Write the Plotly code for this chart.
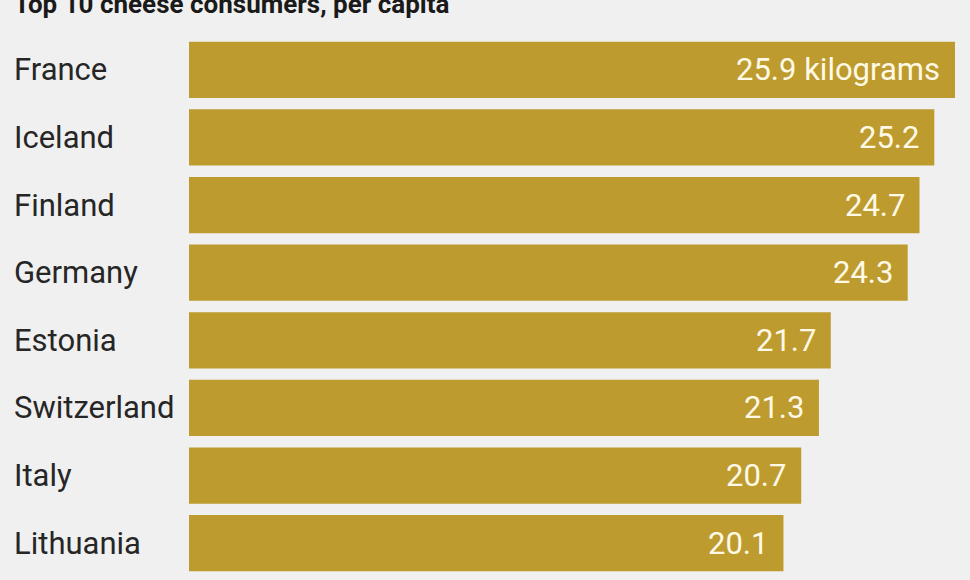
import plotly.graph_objects as go

countries = ["France", "Iceland", "Finland", "Germany", "Estonia", "Switzerland", "Italy", "Lithuania"]
values = [25.9, 25.2, 24.7, 24.3, 21.7, 21.3, 20.7, 20.1]
value_labels = ["25.9 kilograms", "25.2", "24.7", "24.3", "21.7", "21.3", "20.7", "20.1"]
title_text = "Top 10 cheese consumers, per capita"

BG = "#F0F0F0"
BAR = "#BD9B2F"
FONT = "Roboto"

fig = go.Figure(go.Bar(
    x=values, y=countries, orientation="h",
    marker=dict(color=BAR, line=dict(width=0)),
    hoverinfo="skip",
))

annotations = []
for c, v, t in zip(countries, values, value_labels):
    annotations.append(dict(x=v, y=c, xref="x", yref="y", text=t, showarrow=False,
                            xanchor="right", yanchor="middle", xshift=-13,
                            font=dict(family=FONT, size=31, color="#FFF9E6")))
    annotations.append(dict(x=-0.2305, y=c, xref="paper", yref="y", text=c, showarrow=False,
                            xanchor="left", yanchor="middle",
                            font=dict(family=FONT, size=31, color="#262626")))
annotations.append(dict(x=-0.2305, y=1.027, xref="paper", yref="paper", text="<b>" + title_text + "</b>",
                        showarrow=False, xanchor="left", yanchor="bottom",
                        font=dict(family=FONT, size=26, color="#1a1a1a")))

fig.update_layout(
    width=970, height=580,
    margin=dict(l=189, r=15, t=36, b=3, pad=0),
    paper_bgcolor=BG, plot_bgcolor=BG,
    bargap=0.17,
    showlegend=False,
    xaxis=dict(range=[0, 25.9], visible=False, fixedrange=True),
    yaxis=dict(categoryorder="array", categoryarray=countries[::-1], visible=False, fixedrange=True),
    annotations=annotations,
)

fig.write_html("out.html", config={"displayModeBar": False},
               post_script="document.body.style.margin='0';document.body.style.background='#F0F0F0';")
